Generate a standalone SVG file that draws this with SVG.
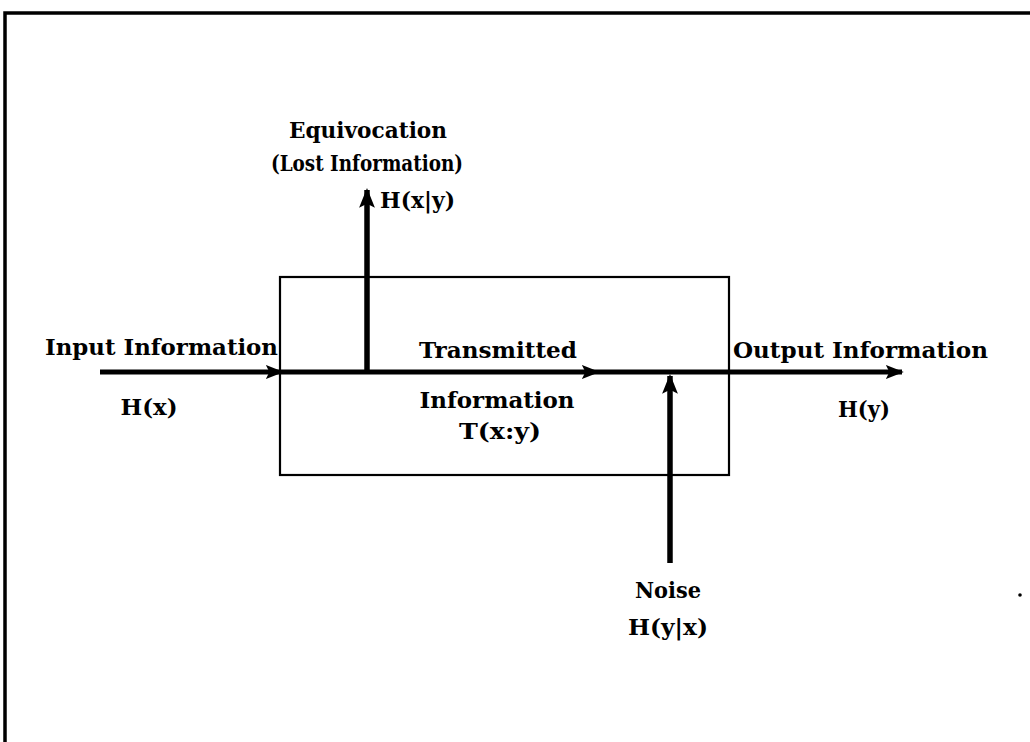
<svg xmlns="http://www.w3.org/2000/svg" width="1030" height="742" viewBox="0 0 1030 742">
<style>
.t{font-family:"DejaVu Serif","Liberation Serif",serif;font-weight:bold;font-size:23px;fill:#000}
.m{text-anchor:middle}
.ln{stroke:#000;fill:none;stroke-linecap:butt}
</style>
<defs>
<marker id="ah" viewBox="0 0 10 10" refX="9" refY="5" markerWidth="3.6" markerHeight="3.6" orient="auto" markerUnits="strokeWidth">
<path d="M0,1 L10,5 L0,9 L2,5 Z" fill="#000"/>
</marker>
</defs>
<rect width="1030" height="742" fill="#fff"/>
<g id="frame">
<path class="ln" d="M5,742 V13 H1030" stroke-width="3.5"/>
<circle cx="1020" cy="595" r="1.8" fill="#000"/>
</g>
<g id="channel">
<rect x="280" y="277" width="449" height="198" fill="none" stroke="#000" stroke-width="2.2"/>
</g>
<g id="connectors">
<path class="ln" d="M100,372 H282" stroke-width="5" marker-end="url(#ah)"/>
<path class="ln" d="M282,372 H598" stroke-width="5" marker-end="url(#ah)"/>
<path class="ln" d="M598,372 H902" stroke-width="5" marker-end="url(#ah)"/>
<path class="ln" d="M367,372 V190" stroke-width="5.5" marker-end="url(#ah)"/>
<path class="ln" d="M670,563 V376" stroke-width="5.5" marker-end="url(#ah)"/>
</g>
<g id="equivocation">
<text class="t m" x="368" y="138" textLength="158" lengthAdjust="spacingAndGlyphs">Equivocation</text>
<text class="t m" x="367" y="171" textLength="192" lengthAdjust="spacingAndGlyphs">(Lost Information)</text>
<text class="t" x="380" y="208" textLength="75" lengthAdjust="spacingAndGlyphs">H(x|y)</text>
</g>
<g id="input">
<text class="t" x="45" y="355" textLength="233" lengthAdjust="spacingAndGlyphs">Input Information</text>
<text class="t m" x="149" y="415" textLength="57" lengthAdjust="spacingAndGlyphs">H(x)</text>
</g>
<g id="transmitted">
<text class="t m" x="498" y="358" textLength="158" lengthAdjust="spacingAndGlyphs">Transmitted</text>
<text class="t m" x="497" y="408" textLength="155" lengthAdjust="spacingAndGlyphs">Information</text>
<text class="t m" x="500" y="439" textLength="82" lengthAdjust="spacingAndGlyphs">T(x:y)</text>
</g>
<g id="output">
<text class="t" x="733" y="358" textLength="255" lengthAdjust="spacingAndGlyphs">Output Information</text>
<text class="t m" x="864" y="417" textLength="52" lengthAdjust="spacingAndGlyphs">H(y)</text>
</g>
<g id="noise">
<text class="t m" x="668" y="598" textLength="66" lengthAdjust="spacingAndGlyphs">Noise</text>
<text class="t m" x="668" y="635" textLength="80" lengthAdjust="spacingAndGlyphs">H(y|x)</text>
</g>
</svg>
